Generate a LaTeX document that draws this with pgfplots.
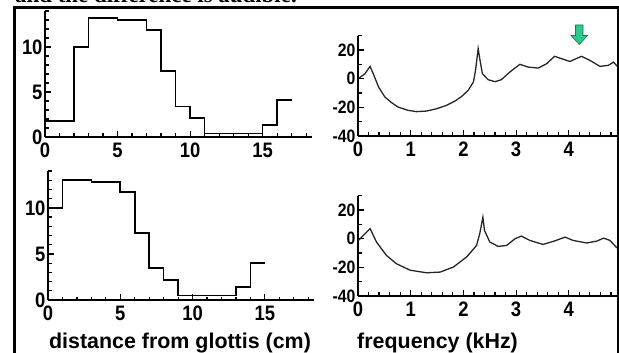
\documentclass[border=0pt]{standalone}
\usepackage{fontspec}
\setmainfont{Liberation Sans}
\newfontfamily\condensed{Liberation Sans}[FakeStretch=0.88]
\newfontfamily\serifbf{Liberation Serif}
\usepackage{pgfplots}
\pgfplotsset{compat=1.18}
\definecolor{arrowfill}{RGB}{45,200,140}
\definecolor{arrowedge}{RGB}{25,120,85}
\begin{document}
\begin{tikzpicture}
\pgfplotsset{
  common/.style={scale only axis, anchor=south west,
    axis x line*=bottom, axis y line*=left,
    axis line style={-, line width=1.6bp},
    tick align=inside, major tick length=6bp, minor tick length=3.5bp,
    tick style={line width=1.2bp, black},
    /pgf/number format/assume math mode=true,
    tick label style={font=\condensed\bfseries\fontsize{21}{21}\selectfont},
    xticklabel style={yshift=-2.5bp},
    yticklabel style={xshift=1bp},
  },
  leftax/.style={common, xmin=0, xmax=18.4, ymin=0, ymax=14,
    xtick={0,5,10,15}, xticklabels={0,5,10,15},
    minor xtick={1,2,3,4,6,7,8,9,11,12,13,14,16,17,18},
    ytick={0,5,10}, yticklabels={0,5,10},
    minor ytick={1,2,3,4,6,7,8,9,11,12,13,14}},
  rightax/.style={common, xmin=0, xmax=5, ymin=-40, ymax=30,
    xtick={0,1,2,3,4,5}, xticklabels={0,1,2,3,4,5},
    minor xtick={0.2,0.4,0.6,0.8,1.2,1.4,1.6,1.8,2.2,2.4,2.6,2.8,3.2,3.4,3.6,3.8,4.2,4.4,4.6,4.8},
    ytick={-40,-20,0,20}, yticklabels={-40,-20,0,20},
    minor ytick={-30,-10,10,30},
    yticklabel style={font=\condensed\bfseries\fontsize{18}{18}\selectfont}},
}
% top-left: area function
\begin{axis}[leftax, at={(45bp,216bp)}, width=267bp, height=126bp]
\addplot[const plot, line width=1.6bp, black] coordinates {
(0,1.8) (2,10) (3,13.2) (5,13.0) (7,11.9) (8,7.3) (9,3.4) (10,2.1) (11,0.4) (15,1.3) (16,4.1) (17,4.1)};
\end{axis}
% bottom-left
\begin{axis}[leftax, at={(48bp,53bp)}, width=266bp, height=129bp]
\addplot[const plot, line width=1.6bp, black] coordinates {
(0,10) (1,13.0) (3,12.8) (5,11.7) (6,7.3) (7,3.5) (8,2.2) (9,0.5) (13,1.4) (14,4.0) (15,4.0)};
\end{axis}
% top-right: spectrum
\begin{axis}[rightax, at={(358bp,217bp)}, width=263.5bp, height=100.3bp]
\addplot[line width=1.3bp, black!85] coordinates {
(0.02,0.4) (0.13,3.4) (0.23,8.6) (0.29,3.4) (0.39,-5.8) (0.51,-12.8) (0.64,-16.8) (0.76,-19.8)
(0.95,-22.1) (1.11,-23) (1.30,-22.6) (1.49,-21) (1.68,-18.6) (1.84,-15.6) (1.97,-12.3)
(2.09,-8.2) (2.19,-2.3) (2.23,5.8) (2.28,21) (2.31,14) (2.36,3.5) (2.47,-0.7) (2.60,-2.1)
(2.72,-0.7) (2.88,4.6) (3.07,10) (3.23,8.1) (3.42,7.4) (3.58,10.5) (3.73,15.6) (3.86,14)
(4.02,12) (4.24,15.6) (4.40,12.8) (4.59,8.6) (4.75,9.3) (4.85,11.6) (4.94,7.7) (5.0,6)};
\end{axis}
% bottom-right
\begin{axis}[rightax, at={(358bp,57bp)}, width=263.5bp, height=100.3bp]
\addplot[line width=1.3bp, black!85] coordinates {
(0.02,-0.8) (0.12,3) (0.23,7) (0.35,-2.3) (0.54,-11.7) (0.73,-17.5) (0.99,-22) (1.30,-23.8)
(1.56,-23.3) (1.81,-19.8) (2.06,-12.8) (2.25,-4.7) (2.31,3.5) (2.37,15) (2.40,5.8) (2.50,-2.3)
(2.66,-5.4) (2.82,-4.7) (2.98,0) (3.10,1.8) (3.26,-1.2) (3.51,-4) (3.73,-1.6) (3.93,1.1)
(4.08,-1.2) (4.34,-3) (4.53,-1.7) (4.66,0.4) (4.78,-1.2) (4.91,-6.3) (5.0,-7)};
\end{axis}
% axis titles
\node[anchor=base, inner sep=0, font=\bfseries\fontsize{21.5}{21.5}\selectfont] at (180bp,5bp) {distance from glottis (cm)};
\node[anchor=base west, inner sep=0, font=\bfseries\fontsize{21.5}{21.5}\selectfont] at (357bp,5bp) {frequency (kHz)};
% clipped caption line above the frame
\node[anchor=base west, inner sep=0, font=\serifbf\bfseries\fontsize{23}{23}\selectfont] at (15bp,350.5bp) {and the difference is audible.};
% frame
\draw[line width=2.5bp] (14.5bp,-5bp) -- (14.5bp,345.5bp) -- (618.3bp,345.5bp) -- (618.3bp,-5bp);
% green arrow
\filldraw[fill=arrowfill, draw=arrowedge, line width=0.6bp]
  (575.5bp,328bp) -- (583bp,328bp) -- (583bp,317.5bp) -- (587.5bp,317.5bp) -- (579.3bp,308.5bp) -- (571bp,317.5bp) -- (575.5bp,317.5bp) -- cycle;
\pgfresetboundingbox
\useasboundingbox (0bp,0bp) rectangle (619bp,353bp);
\end{tikzpicture}
\end{document}
